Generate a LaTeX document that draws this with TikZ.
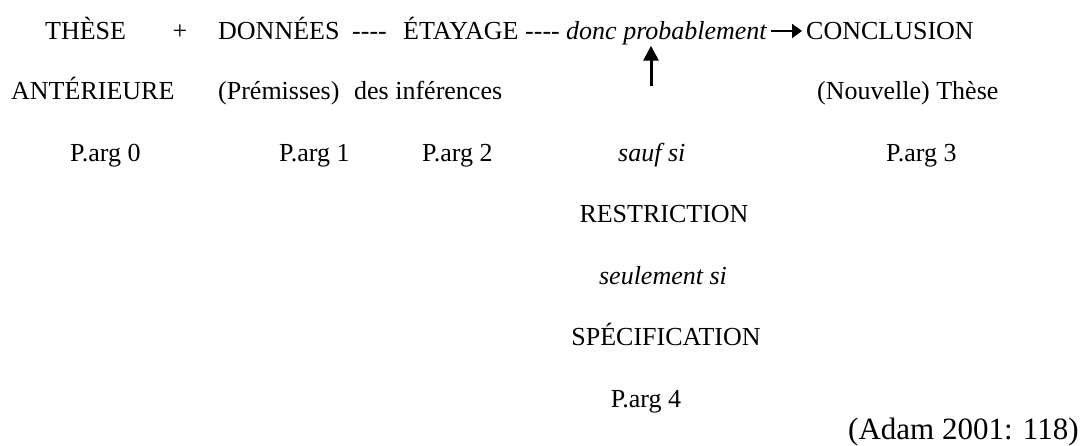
\documentclass[tikz,border=0pt]{standalone}
\usepackage{fontspec}
\setmainfont{Liberation Serif}
\usetikzlibrary{arrows.meta}

\begin{document}
\begin{tikzpicture}[x=1pt, y=-1pt,
 txt/.style={anchor=base west, inner sep=0pt, font=\fontsize{26}{31}\selectfont},
 ctr/.style={txt, anchor=base},
 arr/.style={-{Triangle[length=10pt, width=14pt]}, line width=2.2pt}]
\useasboundingbox (0,0) rectangle (1086,446);
% ligne 1
\node[txt] (these) at (45,40) {THÈSE};
\node[ctr] (plus) at (180,40) {+};
\node[txt] (donnees) at (218,40) {DONNÉES};
\node[txt] (tiret1) at (352,40) {-{}-{}-{}-};
\node[txt] (etayage) at (403,40) {ÉTAYAGE};
\node[txt] (tiret2) at (525,40) {-{}-{}-{}-};
\node[txt] (donc) at (566,40) {\itshape donc probablement};
\node[txt] (concl) at (806,40) {CONCLUSION};
% ligne 2
\node[txt] (anterieure) at (11,100) {ANTÉRIEURE};
\node[txt] (premisses) at (218,100) {(Prémisses)};
\node[txt] (inferences) at (354,100) {des inférences};
\node[txt] (nouvelle) at (817,100) {(Nouvelle) Thèse};
% ligne 3
\node[txt] (parg0) at (70,162) {P.arg 0};
\node[txt] (parg1) at (279,162) {P.arg 1};
\node[txt] (parg2) at (422,162) {P.arg 2};
\node[txt] (sauf) at (618,162) {\itshape sauf si};
\node[txt] (parg3) at (886,162) {P.arg 3};
% colonne
\node[ctr] (restr) at (664,223) {RESTRICTION};
\node[ctr] (seul) at (663,284) {\itshape seulement si};
\node[ctr] (spec) at (666,345) {SPÉCIFICATION};
\node[ctr] (parg4) at (646,407) {P.arg 4};
\node[txt, font=\fontsize{31}{37}\selectfont] (source) at (848,439) {(Adam 2001: 118)};
% fleches
\coordinate (pied) at (651,86);
\draw[arr, line width=3pt, -{Triangle[length=15pt, width=15pt]}] (pied) -- (pied |- donc.south);
\draw[arr, shorten <=4pt, shorten >=4pt] ([yshift=9pt]donc.base east) -- ([yshift=9pt]concl.base west);
\end{tikzpicture}
\end{document}
